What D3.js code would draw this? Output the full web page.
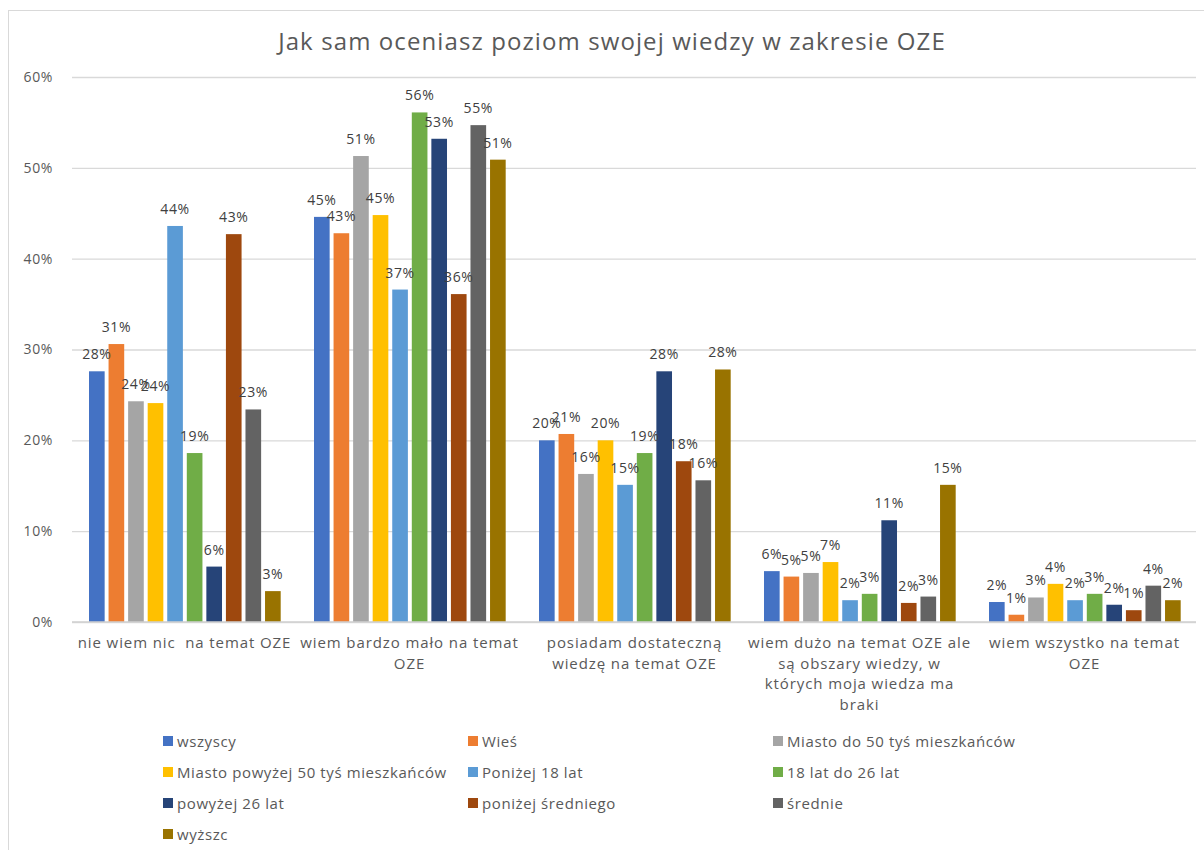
<!DOCTYPE html>
<html>
<head>
<meta charset="utf-8">
<script src="https://cdn.jsdelivr.net/npm/d3@7"></script>
<style>
  html, body { margin: 0; padding: 0; background: #ffffff; }
  svg { display: block; font-family: "Open Sans", "DejaVu Sans", sans-serif; }
  text { white-space: pre; }
</style>
</head>
<body>
<svg id="chart" width="1204" height="850"></svg>
<script>
// ---------- data ----------
const title = "Jak sam oceniasz poziom swojej wiedzy w zakresie OZE";

const categories = [
  "nie wiem nic  na temat OZE",
  "wiem bardzo mało na temat OZE",
  "posiadam dostateczną wiedzę na temat OZE",
  "wiem dużo na temat OZE ale są obszary wiedzy, w których moja wiedza ma braki",
  "wiem wszystko na temat OZE"
];
const categoryLines = [
  ["nie wiem nic  na temat OZE"],
  ["wiem bardzo mało na temat", "OZE"],
  ["posiadam dostateczną", "wiedzę na temat OZE"],
  ["wiem dużo na temat OZE ale", "są obszary wiedzy, w", "których moja wiedza ma", "braki"],
  ["wiem wszystko na temat", "OZE"]
];

const seriesNames = [
  "wszyscy", "Wieś", "Miasto do 50 tyś mieszkańców",
  "Miasto powyżej 50 tyś mieszkańców", "Poniżej 18 lat", "18 lat do 26 lat",
  "powyżej 26 lat", "poniżej średniego", "średnie", "wyższc"
];
const seriesColors = [
  "#4472C4", "#ED7D31", "#A5A5A5", "#FFC000", "#5B9BD5",
  "#70AD47", "#264478", "#9E480E", "#636363", "#997300"
];

const wszyscy          = [0.276, 0.446, 0.200, 0.056, 0.022];
const wies             = [0.306, 0.428, 0.207, 0.050, 0.008];
const miastoDo50       = [0.243, 0.513, 0.163, 0.054, 0.027];
const miastoPow50      = [0.241, 0.448, 0.200, 0.066, 0.042];
const ponizej18        = [0.436, 0.366, 0.151, 0.024, 0.024];
const lat18do26        = [0.186, 0.561, 0.186, 0.031, 0.031];
const powyzej26        = [0.061, 0.532, 0.276, 0.112, 0.019];
const ponizejSredniego = [0.427, 0.361, 0.177, 0.021, 0.013];
const srednie          = [0.234, 0.547, 0.156, 0.028, 0.040];
const wyzsze           = [0.034, 0.509, 0.278, 0.151, 0.024];

const seriesValues = [wszyscy, wies, miastoDo50, miastoPow50, ponizej18,
                      lat18do26, powyzej26, ponizejSredniego, srednie, wyzsze];

const yTicks = [0, 0.1, 0.2, 0.3, 0.4, 0.5, 0.6];

// ---------- chart ----------
const svg = d3.select("#chart");
const textColor = "#595959";

// outer frame
svg.append("rect")
  .attr("x", 8.5).attr("y", 10.5)
  .attr("width", 1300).attr("height", 900)
  .attr("fill", "#fff").attr("stroke", "#d9d9d9").attr("stroke-width", 1);

// title
svg.append("text")
  .attr("x", 612).attr("y", 50)
  .attr("text-anchor", "middle")
  .attr("font-size", 24)
  .attr("letter-spacing", 1.1)
  .attr("fill", textColor)
  .text(title);

const plotLeft = 72, plotRight = 1196;
const y = d3.scaleLinear().domain([0, 0.6]).range([622, 77]);

const x0 = d3.scaleBand().domain(categories).range([72, 1197]).padding(0);
const x1 = d3.scaleBand().domain(seriesNames)
  .range([17, 17 + 19.56 * 9.8]).paddingInner(0.2).paddingOuter(0);

// gridlines + y axis labels via axis
const yAxis = d3.axisLeft(y).tickValues(yTicks).tickFormat(d3.format(".0%"))
  .tickSize(-(plotRight - plotLeft)).tickPadding(19);
const gAxis = svg.append("g")
  .attr("transform", `translate(${plotLeft},0)`)
  .call(yAxis);
gAxis.select(".domain").remove();
gAxis.selectAll(".tick line").attr("stroke", "#d9d9d9").attr("stroke-width", 1.3);
gAxis.selectAll(".tick text")
  .attr("fill", textColor).attr("font-size", 14).attr("letter-spacing", 0.6)
  .attr("font-family", "'Open Sans', sans-serif");

// bars
const groups = svg.append("g").selectAll("g")
  .data(categories)
  .join("g")
  .attr("transform", d => `translate(${x0(d)},0)`);

groups.selectAll("rect")
  .data((c, ci) => seriesNames.map((s, si) => ({ s, si, v: seriesValues[si][ci] })))
  .join("rect")
  .attr("x", d => x1(d.s))
  .attr("width", x1.bandwidth())
  .attr("y", d => y(d.v))
  .attr("height", d => y(0) - y(d.v))
  .attr("fill", d => seriesColors[d.si]);

// baseline
svg.append("line")
  .attr("x1", plotLeft).attr("x2", plotRight)
  .attr("y1", y(0)).attr("y2", y(0))
  .attr("stroke", "#d0d0d0").attr("stroke-width", 1.3);

// data labels
groups.selectAll("text.lbl")
  .data((c, ci) => seriesNames.map((s, si) => ({ s, si, v: seriesValues[si][ci] })))
  .join("text")
  .attr("class", "lbl")
  .attr("x", d => x1(d.s) + x1.bandwidth() / 2)
  .attr("y", d => y(d.v) - 12)
  .attr("text-anchor", "middle")
  .attr("font-size", 14)
  .attr("letter-spacing", 0.6)
  .attr("fill", "#404040")
  .text(d => d3.format(".0%")(d.v));

// category labels
categories.forEach((c, ci) => {
  const cx = x0(c) + x0.bandwidth() / 2;
  const t = svg.append("text")
    .attr("x", cx)
    .attr("y", 648)
    .attr("text-anchor", "middle")
    .attr("font-size", 15)
    .attr("letter-spacing", 0.9)
    .attr("fill", textColor);
  categoryLines[ci].forEach((line, li) => {
    t.append("tspan")
      .attr("x", cx)
      .attr("dy", li === 0 ? 0 : 20.5)
      .text(line);
  });
});

// legend
const legendCols = [163, 468, 773];
const legendRows = [741, 772, 803, 834];
const legend = svg.append("g");
seriesNames.forEach((s, i) => {
  const col = i % 3, row = Math.floor(i / 3);
  const g = legend.append("g")
    .attr("transform", `translate(${legendCols[col]},${legendRows[row]})`);
  g.append("rect")
    .attr("x", 0).attr("y", -5)
    .attr("width", 10).attr("height", 10)
    .attr("fill", seriesColors[i]);
  g.append("text")
    .attr("x", 14).attr("y", 5.5)
    .attr("font-size", 15)
    .attr("letter-spacing", 0.6)
    .attr("fill", textColor)
    .text(s);
});
</script>
</body>
</html>
